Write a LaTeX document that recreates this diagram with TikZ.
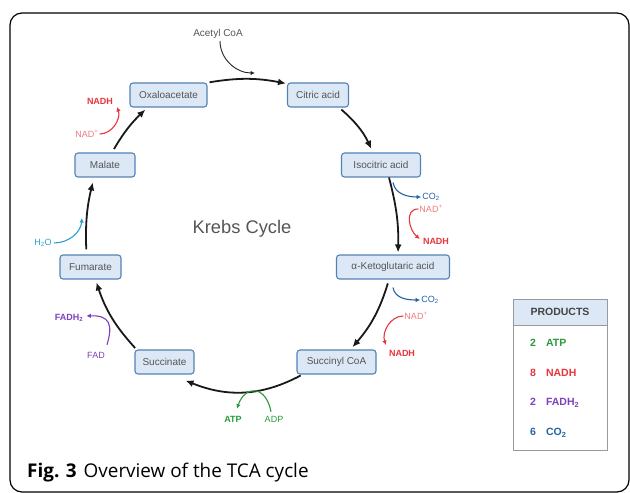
\documentclass[tikz,border=0pt]{standalone}
\usepackage{fontspec}
\setmainfont{Liberation Sans}
\newfontfamily\capfont{Open Sans}
\usetikzlibrary{arrows.meta,calc}
\definecolor{boxfill}{HTML}{DCE8F5}
\definecolor{boxline}{HTML}{5383B3}
\definecolor{txtgray}{HTML}{555555}
\definecolor{nadred}{HTML}{E8343C}
\definecolor{nadlight}{HTML}{F07A7E}
\definecolor{co2blue}{HTML}{2461A6}
\definecolor{atpgreen}{HTML}{2A9A3A}
\definecolor{fadpurple}{HTML}{7E3FBA}
\definecolor{h2ocyan}{HTML}{2AA0C8}
\definecolor{tblline}{HTML}{9A9A9A}
\begin{document}
\begin{tikzpicture}[x=1pt,y=1pt,
 met/.style={draw=boxline,fill=boxfill,line width=1.1pt,rounded corners=3pt,minimum height=24pt,inner sep=0pt,text=txtgray,font=\fontsize{10}{11}\selectfont},
 cyc/.style={line width=1.8pt,-{Latex[length=8pt,width=7pt]},black!90},
 side/.style={line width=1.1pt,-{Latex[length=4.5pt,width=4.5pt]}},
 lab/.style={inner sep=0pt,font=\fontsize{9}{10}\selectfont},
 blab/.style={inner sep=0pt,font=\fontsize{9}{10}\selectfont\bfseries},
 prod/.style={inner sep=0pt,anchor=west,font=\fontsize{10.5}{12}\selectfont\bfseries},
]
\useasboundingbox (0,0) rectangle (630,493);
\draw[line width=1.2pt, rounded corners=12pt] (10,1) rectangle (629,480);

% metabolites
\node[met,minimum width=77pt] (oxa) at (168.5,398) {Oxaloacetate};
\node[met,minimum width=61pt] (cit) at (318,398) {Citric acid};
\node[met,minimum width=79pt] (iso) at (381,328) {Isocitric acid};
\node[met,minimum width=113pt] (ak) at (393,226) {α-Ketoglutaric acid};
\node[met,minimum width=79pt] (sca) at (336.5,131) {Succinyl CoA};
\node[met,minimum width=59pt] (suc) at (164.5,131) {Succinate};
\node[met,minimum width=61pt] (fum) at (90.5,226) {Fumarate};
\node[met,minimum width=60pt] (mal) at (105,328) {Malate};

\node[inner sep=0pt,text=txtgray,font=\fontsize{18.3}{21}\selectfont] (title) at (242,264) {Krebs Cycle};

% side labels
\node[lab,text=txtgray,font=\fontsize{10}{11}\selectfont] (acetyl) at (218,459) {Acetyl CoA};
\node[lab,text=co2blue] (co2a) at (431,296) {CO\textsubscript{2}};
\node[lab,text=nadlight] (nad1) at (431,284) {NAD\textsuperscript{+}};
\node[blab,text=nadred] (nadh1) at (436,252) {NADH};
\node[lab,text=co2blue] (co2b) at (430,193) {CO\textsubscript{2}};
\node[lab,text=nadlight] (nad2) at (416,177) {NAD\textsuperscript{+}};
\node[blab,text=nadred] (nadh2) at (402,140) {NADH};
\node[blab,text=atpgreen] (atp) at (233,74) {ATP};
\node[lab,text=atpgreen] (adp) at (274,74) {ADP};
\node[lab,text=fadpurple] (fad) at (96,138) {FAD};
\node[blab,text=fadpurple] (fadh) at (69,175) {FADH\textsubscript{2}};
\node[lab,text=h2ocyan] (h2o) at (43,250) {H\textsubscript{2}O};
\node[lab,text=nadlight] (nadm) at (87,359) {NAD\textsuperscript{+}};
\node[blab,text=nadred] (nadhm) at (100,392) {NADH};

% cycle arrows
\draw[cyc,shorten <=1pt] ([xshift=1pt]oxa.north east) to[bend left=10] ([xshift=-1pt,yshift=-1pt]cit.north west);
\draw[cyc,shorten <=3pt,shorten >=4pt] ([xshift=-10pt]cit.south east) to[bend left=12] ([xshift=-8pt]iso.north);
\draw[cyc,shorten >=2pt] ([xshift=8pt]iso.south) to[bend left=8] ([xshift=5pt]ak.north);
\draw[cyc,shorten <=4pt,shorten >=3pt] ([xshift=-4pt]ak.south) to[bend left=12] ([xshift=14pt]sca.north);
\draw[cyc,shorten <=2pt] ([xshift=6pt]sca.south west) to[bend left=25] ([xshift=-9pt,yshift=-6pt]suc.south east);
\draw[cyc,shorten <=2pt,shorten >=3pt] ([xshift=2pt]suc.north west) to[bend left=12] ([xshift=5pt]fum.south);
\draw[cyc,shorten <=5pt,shorten >=5pt] ([xshift=-4pt]fum.north) to[bend left=8] ([xshift=-11pt]mal.south);
\draw[cyc,shorten <=4pt,shorten >=3pt] ([xshift=7pt]mal.north) to[bend left=8] ([xshift=-21pt]oxa.south);

% side arrows
\coordinate (acin) at (255,420);
\draw[side,black!85,line width=0.9pt] ([xshift=2pt,yshift=-2pt]acetyl.south) to[out=-90,in=180] (acin);
\draw[side,co2blue] ([xshift=12pt,yshift=-5pt]iso.south) to[out=-80,in=180] ([xshift=-1pt]co2a.west);
\draw[side,nadred] ([xshift=-1pt]nad1.west) to[out=180,in=140,looseness=1.2] ([xshift=-3pt,yshift=2pt]nadh1.west);
\draw[side,co2blue] ([yshift=-8pt]ak.south) to[out=-80,in=180] ([xshift=-1pt]co2b.west);
\draw[side,nadred] ([xshift=-1pt]nad2.west) to[out=180,in=110] ([xshift=-16pt,yshift=8pt]nadh2.center);
\draw[side,atpgreen] ([xshift=-3pt,yshift=4pt]adp.north) .. controls (266,108) and (245,108) .. ([xshift=4pt,yshift=7pt]atp.north);
\draw[side,fadpurple] ([xshift=11pt,yshift=7pt]fad.north) .. controls (113,168) and (110,178) .. ([xshift=3pt,yshift=2pt]fadh.east);
\draw[side,h2ocyan] ([xshift=2pt]h2o.east) to[out=0,in=-95] (82,275);
\draw[side,nadred] ([xshift=1pt]nadm.east) to[out=0,in=-70] ([xshift=17pt,yshift=-6pt]nadhm.center);

% products table
\draw[tblline,line width=0.9pt,fill=white] (513,43) rectangle (607,194);
\draw[tblline,line width=0.9pt,fill=boxfill] (513,168) rectangle (607,194);
\node[inner sep=0pt,text=txtgray!80!black,font=\fontsize{10.5}{12}\selectfont\bfseries] (phead) at (560,181) {PRODUCTS};
\node[prod,text=atpgreen] (p1) at (530,150) {2\hspace{10pt}ATP};
\node[prod,text=nadred] (p2) at (530,120) {8\hspace{10pt}NADH};
\node[prod,text=fadpurple] (p3) at (530,90) {2\hspace{10pt}FADH\textsubscript{2}};
\node[prod,text=co2blue] (p4) at (530,60) {6\hspace{10pt}CO\textsubscript{2}};

% caption
\node[inner sep=0pt,anchor=west,font=\capfont\fontsize{18.9}{22}\selectfont] (cap) at (27,20) {\textbf{Fig. 3}\hspace{7pt}Overview of the TCA cycle};
\end{tikzpicture}
\end{document}
